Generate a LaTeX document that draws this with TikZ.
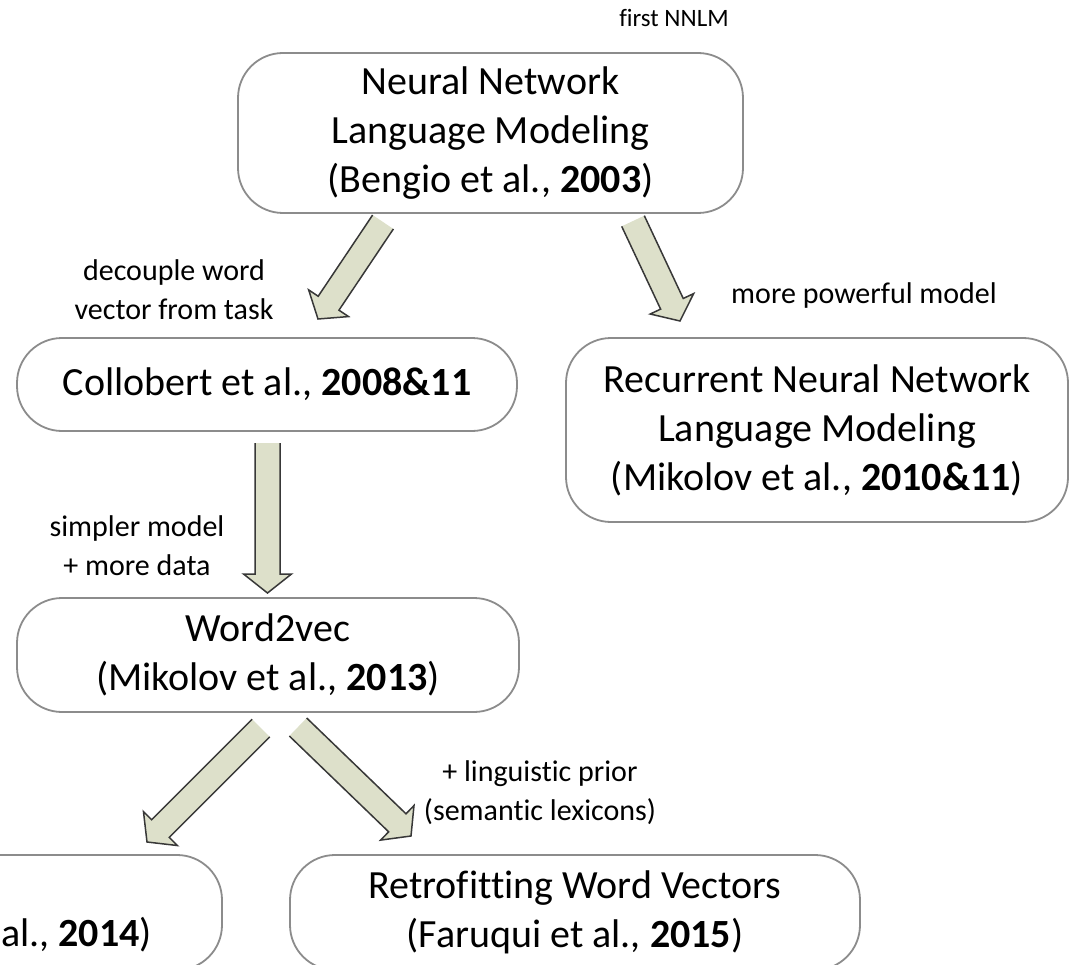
\documentclass[tikz,border=0pt]{standalone}
\usepackage{fontspec}
\setmainfont{Carlito}[Ligatures=NoCommon]
\usetikzlibrary{calc}

\definecolor{arrowfill}{RGB}{221,224,202}
\definecolor{boxline}{RGB}{140,140,140}

\tikzset{
  box/.style={draw=boxline, line width=1.8pt, rounded corners=45pt, fill=white,
    inner sep=0pt, align=center, font=\fontsize{40}{49}\selectfont},
  note/.style={align=center, inner sep=0pt, font=\fontsize{30}{39}\selectfont},
  arrowbody/.style={fill=arrowfill},
  arrowedge/.style={draw=black!78, line width=1.5pt, line join=miter},
}

% Block arrow from a tail coordinate (#1) to a tip coordinate (#2);
% the tail end stays open (no outline), like a cut ribbon.
\newcommand\blockarrow[2]{%
  \coordinate (ba-b)  at ($(#2)!19pt!(#1)$);
  \coordinate (ba-tl) at ($(#1)!12.5pt!90:(#2)$);
  \coordinate (ba-tr) at ($(#1)!12.5pt!-90:(#2)$);
  \coordinate (ba-sl) at ($(ba-b)!12.5pt!90:(#2)$);
  \coordinate (ba-sr) at ($(ba-b)!12.5pt!-90:(#2)$);
  \coordinate (ba-hl) at ($(ba-b)!24pt!90:(#2)$);
  \coordinate (ba-hr) at ($(ba-b)!24pt!-90:(#2)$);
  \fill[arrowbody] (ba-tl) -- (ba-sl) -- (ba-hl) -- (#2) -- (ba-hr) -- (ba-sr) -- (ba-tr) -- cycle;
  \draw[arrowedge] (ba-tl) -- (ba-sl) -- (ba-hl) -- (#2) -- (ba-hr) -- (ba-sr) -- (ba-tr);
}

\begin{document}
\begin{tikzpicture}[x=1pt, y=-1pt]
  \useasboundingbox (0,0) rectangle (1070,965);
  \clip (0,0) rectangle (1070,965);

  % boxes
  \node[box, minimum width=505pt, minimum height=160pt] (nnlm) at (490.5,133)
    {Neural Network\\Language Modeling\\(Bengio et al., \textbf{2003})};
  \node[box, minimum width=500pt, minimum height=93pt] (collobert) at (267,384.5)
    {Collobert et al., \textbf{2008\&11}};
  \node[box, minimum width=502pt, minimum height=184pt] (rnnlm) at (817,430)
    {Recurrent Neural Network\\Language Modeling\\(Mikolov et al., \textbf{2010\&11})};
  \node[box, minimum width=502pt, minimum height=114pt] (w2v) at (268,655)
    {Word2vec\\(Mikolov et al., \textbf{2013})};
  \node[box, minimum width=502pt, minimum height=115pt] (glove) at (-29,912.5) {};
  \node[anchor=west, inner sep=0pt, font=\fontsize{40}{49}\selectfont] (glovetext) at (1,935)
    {al., \textbf{2014})};
  \node[box, minimum width=570pt, minimum height=115pt] (retro) at (575,912.5)
    {Retrofitting Word Vectors\\(Faruqui et al., \textbf{2015})};

  % labels
  \node[inner sep=0pt, font=\fontsize{25}{30}\selectfont] (first) at (674,18) {first NNLM};
  \node[note] (decouple) at (174,290) {decouple word\\vector from task};
  \node[note] (powerful) at (864,296) {more powerful model};
  \node[note] (simpler) at (137,546) {simpler model\\+ more data};
  \node[note] (prior) at (540,793) {+ linguistic prior\\(semantic lexicons)};

  % arrow end points
  \coordinate (a1t) at (383,222);   \coordinate (a1h) at (318,319);
  \coordinate (a2t) at (633,221);   \coordinate (a2h) at (680,321);
  \coordinate (a3t) at (267.5,443); \coordinate (a3h) at (267.5,593);
  \coordinate (a4t) at (261,728);   \coordinate (a4h) at (147,842);
  \coordinate (a5t) at (298,727);   \coordinate (a5h) at (411,836);

  \blockarrow{a1t}{a1h}
  \blockarrow{a2t}{a2h}
  \blockarrow{a3t}{a3h}
  \blockarrow{a4t}{a4h}
  \blockarrow{a5t}{a5h}
\end{tikzpicture}
\end{document}
